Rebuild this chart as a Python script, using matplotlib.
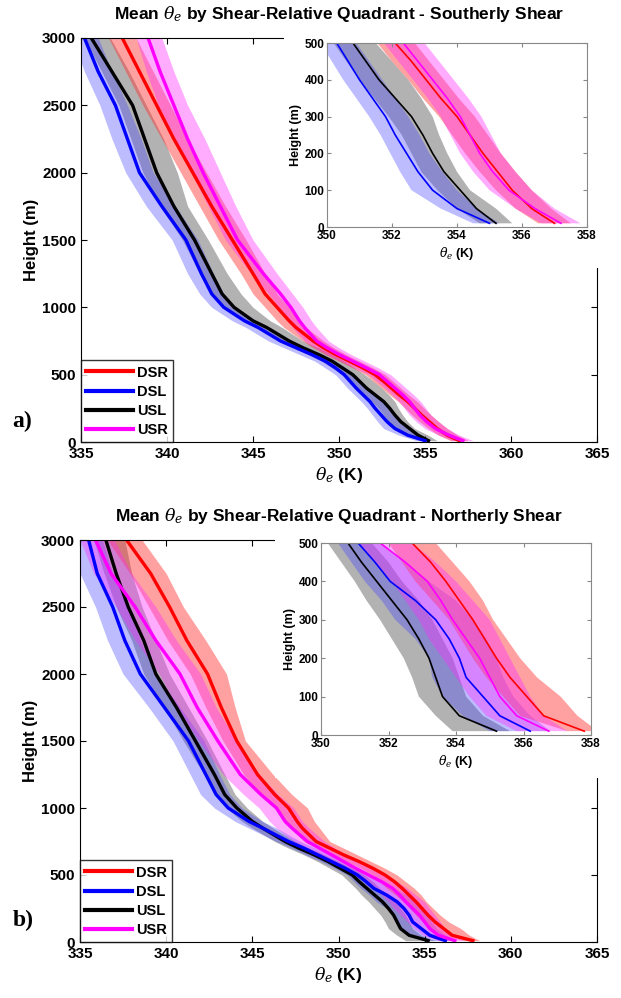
import matplotlib

matplotlib.use("Agg")
import matplotlib.pyplot as plt
from matplotlib.patches import Rectangle

plt.rcParams["font.family"] = ["Liberation Sans", "DejaVu Sans"]
plt.rcParams["font.weight"] = "bold"
plt.rcParams["axes.labelweight"] = "bold"
plt.rcParams["mathtext.fontset"] = "custom"
plt.rcParams["mathtext.it"] = "DejaVu Serif:italic:normal"
plt.rcParams["mathtext.rm"] = "Liberation Sans:bold"

# heights (m) shared by every profile
heights = [10, 50, 100, 150, 200, 250, 300, 350, 400, 450, 500, 550, 600, 650, 700, 750,
           850, 900, 1000, 1100, 1250, 1500, 1750, 2000, 2250, 2500, 2750, 3000]

quadrants = ["DSR", "DSL", "USL", "USR"]

# ---- southerly shear: mean and band (lo/hi) theta_e (K)
s_dsr = [357.0, 356.3, 355.7, 355.25, 354.8, 354.4, 354.0, 353.5, 353.05, 352.6, 352.1, 351.4, 350.6,
         349.8, 349.1, 348.5, 347.5, 347.1, 346.4, 345.7, 345.0, 343.8, 342.6, 341.5, 340.4, 339.4,
         338.4, 337.4]
s_dsr_lo = [356.5, 355.8, 355.2, 354.7, 354.25, 353.85, 353.45, 352.95, 352.5, 352.0, 351.55, 350.8,
            350.0, 349.2, 348.5, 347.9, 346.8, 346.4, 345.7, 345.0, 344.3, 343.0, 341.9, 340.8, 339.7,
            338.6, 337.6, 336.6]
s_dsr_hi = [357.5, 356.9, 356.3, 355.8, 355.35, 354.95, 354.55, 354.05, 353.6, 353.15, 352.7, 352.0,
            351.2, 350.4, 349.7, 349.1, 348.1, 347.7, 347.1, 346.4, 345.7, 344.6, 343.4, 342.3, 341.2,
            340.2, 339.2, 338.2]

s_dsl = [355.0, 354.0, 353.25, 352.8, 352.45, 352.1, 351.8, 351.4, 351.0, 350.65, 350.3, 349.8, 349.2,
         348.4, 347.5, 346.6, 345.3, 344.5, 343.3, 342.6, 342.0, 341.1, 339.7, 338.4, 337.7, 337.0,
         336.0, 335.2]
s_dsl_lo = [354.5, 353.5, 352.6, 352.25, 351.95, 351.65, 351.3, 350.9, 350.5, 350.15, 349.8, 349.2,
            348.6, 347.7, 346.8, 345.9, 344.6, 343.8, 342.6, 341.9, 341.2, 340.3, 338.8, 337.6, 336.8,
            336.1, 335.2, 334.5]
s_dsl_hi = [355.3, 354.6, 354.0, 353.55, 353.15, 352.85, 352.5, 352.1, 351.7, 351.3, 350.9, 350.4,
            349.8, 349.1, 348.2, 347.3, 346.0, 345.2, 343.9, 343.3, 342.7, 341.8, 340.5, 339.2, 338.5,
            337.7, 336.8, 336.0]

s_usl = [355.2, 354.6, 354.1, 353.6, 353.25, 352.95, 352.6, 352.1, 351.6, 351.2, 350.8, 350.2, 349.6,
         348.8, 347.9, 347.1, 345.8, 345.0, 343.9, 343.2, 342.6, 341.6, 340.4, 339.4, 338.7, 338.0,
         336.8, 335.6]
s_usl_lo = [354.7, 354.0, 353.4, 352.9, 352.6, 352.3, 351.9, 351.45, 351.0, 350.6, 350.2, 349.6, 349.0,
            348.2, 347.3, 346.5, 345.2, 344.4, 343.3, 342.6, 341.9, 340.9, 339.6, 338.6, 337.9, 337.2,
            336.2, 335.2]
s_usl_hi = [355.7, 355.2, 354.4, 354.0, 353.7, 353.45, 353.25, 352.9, 352.5, 352.0, 351.5, 350.9,
            350.3, 349.6, 348.8, 347.9, 346.7, 346.0, 345.0, 344.3, 343.5, 342.4, 341.2, 340.6, 339.8,
            338.8, 337.8, 336.7]

s_usr = [357.2, 356.4, 355.6, 355.1, 354.7, 354.4, 354.1, 353.7, 353.25, 352.8, 352.35, 351.6, 350.8,
         350.0, 349.3, 348.7, 348.0, 347.7, 347.2, 346.6, 345.6, 344.1, 343.1, 342.1, 341.2, 340.4,
         339.6, 338.9]
s_usr_lo = [356.6, 355.8, 355.0, 354.5, 354.1, 353.8, 353.5, 353.1, 352.65, 352.2, 351.75, 350.9,
            350.1, 349.3, 348.6, 348.0, 347.3, 347.0, 346.5, 345.9, 344.9, 343.4, 342.4, 341.4, 340.5,
            339.5, 338.8, 338.2]
s_usr_hi = [357.8, 357.0, 356.3, 355.8, 355.35, 355.05, 354.75, 354.35, 353.9, 353.45, 353.0, 352.3,
            351.5, 350.7, 350.0, 349.4, 348.7, 348.4, 347.9, 347.3, 346.4, 345.0, 344.0, 343.1, 342.2,
            341.2, 340.4, 339.7]

# ---- northerly shear
n_dsr = [357.8, 356.6, 356.1, 355.6, 355.2, 354.85, 354.5, 354.1, 353.7, 353.25, 352.7, 352.0, 351.2,
         350.3, 349.5, 348.7, 347.9, 347.6, 347.1, 346.3, 345.3, 344.1, 343.2, 342.4, 341.2, 340.2,
         339.1, 337.7]
n_dsr_lo = [357.3, 355.9, 355.4, 354.9, 354.5, 354.15, 353.8, 353.3, 352.8, 352.4, 352.0, 351.3,
            350.5, 349.6, 348.8, 348.0, 347.2, 346.9, 346.3, 345.5, 344.5, 343.3, 342.3, 341.4, 340.1,
            339.0, 337.9, 336.6]
n_dsr_hi = [358.2, 357.6, 357.1, 356.4, 355.9, 355.5, 355.1, 354.8, 354.4, 353.9, 353.4, 352.7, 351.9,
            351.1, 350.3, 349.5, 348.9, 348.6, 348.2, 347.3, 346.2, 344.6, 344.0, 343.5, 342.3, 341.0,
            340.0, 338.6]

n_dsl = [356.2, 355.3, 354.8, 354.3, 354.1, 353.8, 353.4, 352.8, 352.05, 351.6, 351.1, 350.4, 349.6,
         348.8, 348.0, 347.1, 345.6, 344.8, 343.6, 342.9, 342.3, 341.3, 339.9, 338.5, 337.6, 336.9,
         336.0, 335.5]
n_dsl_lo = [355.0, 354.2, 353.6, 353.3, 353.2, 352.8, 352.2, 351.8, 351.3, 350.9, 350.5, 349.8, 349.0,
            348.1, 347.3, 346.4, 344.8, 344.0, 342.8, 342.0, 341.4, 340.4, 339.0, 337.5, 336.6, 335.9,
            335.0, 334.3]
n_dsl_hi = [356.8, 356.2, 355.7, 355.4, 355.2, 354.9, 354.5, 354.0, 353.2, 352.5, 351.8, 351.1, 350.3,
            349.5, 348.7, 347.8, 346.4, 345.6, 344.4, 343.7, 343.1, 342.2, 340.8, 339.4, 338.5, 337.8,
            336.9, 336.3]

n_usl = [355.2, 354.1, 353.6, 353.4, 353.2, 352.9, 352.55, 352.1, 351.65, 351.2, 350.8, 350.1, 349.4,
         348.6, 347.7, 346.9, 345.6, 345.0, 344.1, 343.4, 342.8, 341.7, 340.6, 339.4, 338.7, 337.8,
         337.1, 336.5]
n_usl_lo = [353.9, 353.4, 352.9, 352.7, 352.45, 352.1, 351.75, 351.35, 351.0, 350.6, 350.2, 349.5,
            348.8, 348.0, 347.1, 346.3, 345.0, 344.4, 343.5, 342.8, 342.2, 341.0, 339.9, 338.7, 338.0,
            337.1, 336.4, 335.8]
n_usl_hi = [355.6, 354.8, 354.3, 354.1, 353.9, 353.6, 353.3, 352.9, 352.4, 352.0, 351.5, 350.8, 350.0,
            349.2, 348.3, 347.5, 346.2, 345.6, 344.7, 344.0, 343.4, 342.4, 341.3, 340.2, 339.4, 338.6,
            338.0, 337.6]

n_usr = [356.75, 355.8, 355.3, 355.0, 354.7, 354.3, 353.9, 353.55, 353.15, 352.5, 351.75, 351.0, 350.3,
         349.6, 348.9, 348.2, 347.3, 346.9, 346.4, 345.5, 344.3, 343.0, 341.8, 340.8, 339.4, 338.2,
         336.8, 335.9]
n_usr_lo = [355.8, 354.9, 354.4, 354.0, 353.6, 353.2, 352.9, 352.5, 352.1, 351.6, 351.1, 350.3, 349.5,
            348.8, 348.1, 347.4, 346.4, 346.0, 345.4, 344.5, 343.3, 341.9, 340.6, 339.6, 338.2, 337.1,
            335.8, 335.0]
n_usr_hi = [357.3, 356.6, 356.2, 355.9, 355.6, 355.3, 355.0, 354.5, 354.0, 353.4, 352.7, 351.9, 351.2,
            350.5, 349.8, 349.2, 348.3, 347.9, 347.4, 346.5, 345.4, 344.1, 342.9, 342.0, 340.6, 339.4,
            338.0, 337.0]

line_colors = {"DSR": "#ff0000", "DSL": "#0000ff", "USL": "#000000", "USR": "#ff00ff"}
fill_colors = {"DSR": ("#ff3030", 0.45), "DSL": ("#4040ff", 0.35),
               "USL": ("#555555", 0.45), "USR": ("#ff30ff", 0.4)}
fill_order = ["USL", "DSL", "DSR", "USR"]

panels = [
    {
        "title": r"Mean $\theta_e$ by Shear-Relative Quadrant - Southerly Shear",
        "tag": "a)",
        "data": {"DSR": (s_dsr, s_dsr_lo, s_dsr_hi), "DSL": (s_dsl, s_dsl_lo, s_dsl_hi),
                 "USL": (s_usl, s_usl_lo, s_usl_hi), "USR": (s_usr, s_usr_lo, s_usr_hi)},
        "main": [81 / 621, (998 - 442) / 998, 516 / 621, 404 / 998],
        "inset": [327 / 621, (998 - 227) / 998, 260 / 621, 184 / 998],
        "cover": (284 / 621, (998 - 268) / 998, 1.0, (998 - 33) / 998),
        "tag_y": 0.578,
    },
    {
        "title": r"Mean $\theta_e$ by Shear-Relative Quadrant - Northerly Shear",
        "tag": "b)",
        "data": {"DSR": (n_dsr, n_dsr_lo, n_dsr_hi), "DSL": (n_dsl, n_dsl_lo, n_dsl_hi),
                 "USL": (n_usl, n_usl_lo, n_usl_hi), "USR": (n_usr, n_usr_lo, n_usr_hi)},
        "main": [80 / 621, (998 - 942) / 998, 517 / 621, 402 / 998],
        "inset": [321 / 621, (998 - 735) / 998, 270 / 621, 192 / 998],
        "cover": (275 / 621, (998 - 778) / 998, 1.0, (998 - 532) / 998),
        "tag_y": 0.078,
    },
]


def draw_profiles(ax, data, lw):
    for q in fill_order:
        mean, lo, hi = data[q]
        c, a = fill_colors[q]
        ax.fill_betweenx(heights, lo, hi, color=c, alpha=a, lw=0)
    handles = {}
    for q in fill_order:
        mean, lo, hi = data[q]
        (h,) = ax.plot(mean, heights, color=line_colors[q], lw=lw)
        handles[q] = h
    return handles


fig = plt.figure(figsize=(6.21, 9.98), dpi=100)

for p in panels:
    ax = fig.add_axes(p["main"])
    handles = draw_profiles(ax, p["data"], 2.4)
    ax.set_xlim(335, 365)
    ax.set_ylim(0, 3000)
    ax.set_xticks(range(335, 366, 5))
    ax.set_yticks(range(0, 3001, 500))
    ax.tick_params(direction="in", top=True, right=True, labelsize=11, length=4)
    ax.set_xlabel(r"$\theta_e$ (K)", fontsize=12.5, labelpad=3)
    ax.set_ylabel("Height (m)", fontsize=12, labelpad=2)
    ax.set_title(p["title"], fontsize=12.5, fontweight="bold", pad=14)
    leg = ax.legend([handles[q] for q in quadrants], quadrants, loc="lower left",
                    borderaxespad=0, fancybox=False, edgecolor="black", fontsize=10.5,
                    handlelength=3.2, handletextpad=0.3, labelspacing=0.35,
                    borderpad=0.35)
    for line in leg.get_lines():
        line.set_linewidth(3)
    leg.get_frame().set_linewidth(1.0)

    x0, y0, x1, y1 = p["cover"]
    fig.add_artist(Rectangle((x0, y0), x1 - x0, y1 - y0, transform=fig.transFigure,
                             facecolor="white", edgecolor="none", zorder=1))

    axi = fig.add_axes(p["inset"], zorder=2)
    draw_profiles(axi, p["data"], 1.2)
    axi.set_xlim(350, 358)
    axi.set_ylim(0, 500)
    axi.set_xticks(range(350, 359, 2))
    axi.set_yticks(range(0, 501, 100))
    axi.tick_params(direction="in", top=True, right=True, labelsize=8.5, length=3,
                    color="#888888", pad=2)
    for s in axi.spines.values():
        s.set_color("#888888")
    axi.set_xlabel(r"$\theta_e$ (K)", fontsize=9, labelpad=2)
    axi.set_ylabel("Height (m)", fontsize=9, labelpad=2)

    fig.text(0.02, p["tag_y"], p["tag"], fontsize=17, fontweight="bold",
             family="Liberation Serif", va="center", ha="left")

fig.savefig("out.png", dpi=100)
